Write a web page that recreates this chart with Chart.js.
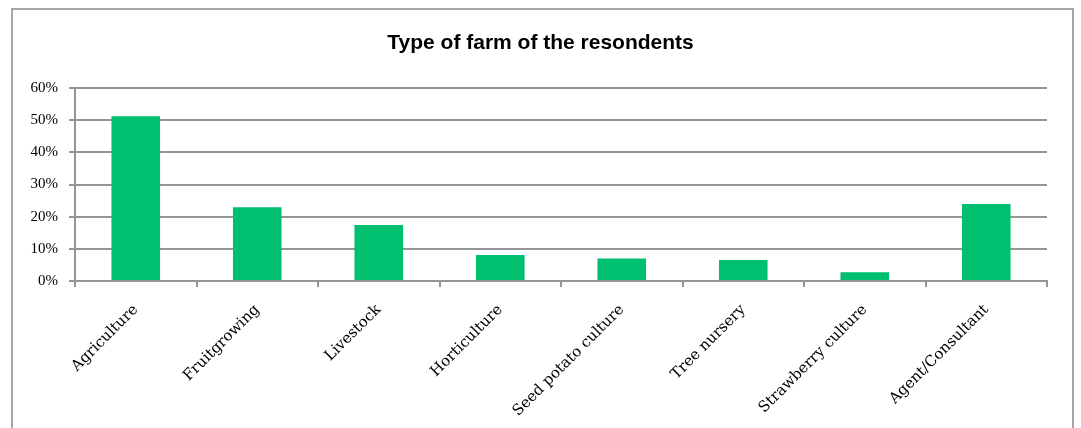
<!DOCTYPE html>
<html>
<head>
<meta charset="utf-8">
<script src="https://cdn.jsdelivr.net/npm/chart.js@4"></script>
<style>
  html, body { margin: 0; padding: 0; background: #fff; overflow: hidden; }
  #wrap { position: relative; width: 1081px; height: 428px; }
  #frame { position: absolute; left: 11px; top: 8px; width: 1063px; height: 440px; border: 2px solid #a6a6a6; box-sizing: border-box; }
  canvas { position: absolute; left: 0; top: 0; }
</style>
</head>
<body>
<div id="wrap">
  <div id="frame"></div>
  <canvas id="c" width="1081" height="428"></canvas>
</div>
<script>
const categories = ["Agriculture", "Fruitgrowing", "Livestock", "Horticulture", "Seed potato culture", "Tree nursery", "Strawberry culture", "Agent/Consultant"];
const shares = [51.2, 22.9, 17.4, 8.1, 7.0, 6.5, 2.7, 23.9];
const yTicks = [0, 10, 20, 30, 40, 50, 60];
const titleText = "Type of farm of the resondents";

const gridColor = "#959595";
new Chart(document.getElementById("c"), {
  type: "bar",
  data: {
    labels: categories,
    datasets: [{
      data: shares,
      backgroundColor: "#00BF6F",
      borderWidth: 0,
      barPercentage: 0.4,
      categoryPercentage: 1.0
    }]
  },
  options: {
    responsive: false,
    animation: false,
    devicePixelRatio: 1,
    layout: { padding: { left: 0, right: 0, top: 0, bottom: 0 } },
    plugins: {
      legend: { display: false },
      tooltip: { enabled: false },
      title: {
        display: true,
        text: titleText,
        color: "#000",
        font: { family: "Liberation Sans", size: 21, weight: "bold" },
        padding: { top: 31, bottom: 31.8 }
      }
    },
    scales: {
      y: {
        min: 0, max: 60,
        afterFit: s => { s.width = 75; },
        afterBuildTicks: s => { s.ticks = yTicks.map(v => ({ value: v })); },
        ticks: {
          callback: v => v + "%",
          color: "#000",
          font: { family: "Liberation Serif", size: 15 },
          padding: 11
        },
        grid: { color: gridColor, lineWidth: 2, tickLength: 6, drawTicks: true },
        border: { display: true, color: gridColor, width: 2 }
      },
      spacer: {
        type: "linear",
        position: "right",
        min: 0, max: 60,
        afterFit: s => { s.width = 34; },
        ticks: { display: false },
        grid: { display: false, drawTicks: false },
        border: { display: false }
      },
      x: {
        afterFit: s => { s.height = 147; },
        ticks: {
          color: "#000",
          font: { family: "DejaVu Serif", size: 15 },
          maxRotation: 45, minRotation: 45,
          padding: 14,
          autoSkip: false
        },
        grid: { offset: true, drawOnChartArea: false, drawTicks: true, tickLength: 6, color: gridColor, lineWidth: 2 },
        border: { display: true, color: gridColor, width: 2 }
      }
    }
  }
});
</script>
</body>
</html>
